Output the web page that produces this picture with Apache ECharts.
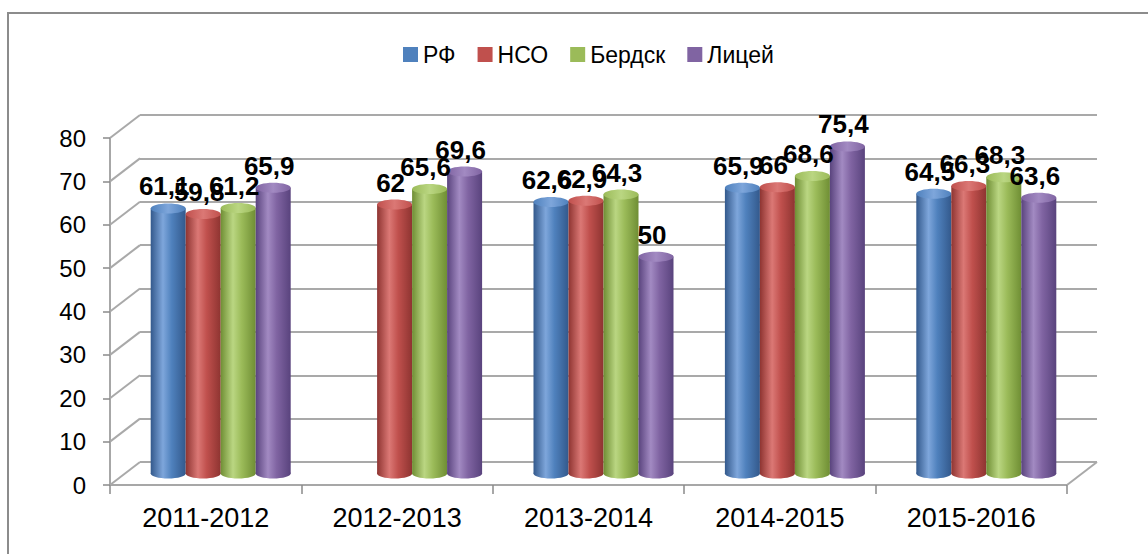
<!DOCTYPE html>
<html>
<head>
<meta charset="utf-8">
<script src="https://cdn.jsdelivr.net/npm/echarts@6/dist/echarts.min.js"></script>
<style>
  html, body { margin: 0; padding: 0; background: #fff; }
  #chart { width: 1148px; height: 554px; }
</style>
</head>
<body>
<div id="chart"></div>
<script>
const categories = ['2011-2012', '2012-2013', '2013-2014', '2014-2015', '2015-2016'];
const seriesNames = ['РФ', 'НСО', 'Бердск', 'Лицей'];
const rf = [61.1, null, 62.6, 65.9, 64.5];
const nso = [59.8, 62, 62.9, 66, 66.3];
const berdsk = [61.2, 65.6, 64.3, 68.6, 68.3];
const licey = [65.9, 69.6, 50, 75.4, 63.6];
const yTicks = [0, 10, 20, 30, 40, 50, 60, 70, 80];

const allValues = [rf, nso, berdsk, licey];

// office palette: base, light, dark
const palette = [
  { base: '#4F81BD', light: '#7ea6db', dark: '#33598c' },
  { base: '#C0504D', light: '#db7875', dark: '#8e3431' },
  { base: '#9BBB59', light: '#bad682', dark: '#6f8e34' },
  { base: '#8064A2', light: '#a28ac2', dark: '#59437d' }
];

// depth of the 3d box
const DX = 30, DY = 23;
const FRONT = { left: 110, right: 81, top: 138, bottom: 69 };
const BAR_W = 35;
const GRID_COLOR = '#a9a9a9';
const AXIS_COLOR = '#8a8a8a';
const FONT = 'Liberation Sans, Arial, sans-serif';

const chart = echarts.init(document.getElementById('chart'), null, { renderer: 'svg' });

const shift = (g, k) => ({
  left: g.left + DX * k,
  right: g.right - DX * k,
  top: g.top - DY * k,
  bottom: g.bottom + DY * k
});

const fmt = (v) => String(v).replace('.', ',');

function bodyGradient(p) {
  return new echarts.graphic.LinearGradient(0, 0, 1, 0, [
    { offset: 0, color: p.dark },
    { offset: 0.35, color: p.light },
    { offset: 0.6, color: p.base },
    { offset: 1, color: p.dark }
  ]);
}

function cylinder(sIdx) {
  const p = palette[sIdx];
  return function (params, api) {
    const v = api.value(1);
    if (v == null || isNaN(v)) return;
    const i = api.value(0);
    const base = api.coord([i, 0]);
    const top = api.coord([i, v]);
    const cx = base[0] + (sIdx - 1.5) * BAR_W;
    const w = BAR_W;
    const ry = 5;
    return {
      type: 'group',
      children: [
        { type: 'ellipse', shape: { cx: cx, cy: base[1], rx: w / 2, ry: ry }, style: { fill: bodyGradient(p) } },
        { type: 'rect', shape: { x: cx - w / 2, y: top[1], width: w, height: base[1] - top[1] }, style: { fill: bodyGradient(p) } },
        {
          type: 'ellipse', shape: { cx: cx, cy: top[1], rx: w / 2, ry: ry },
          style: {
            fill: new echarts.graphic.LinearGradient(0, 0, 1, 0, [
              { offset: 0, color: p.base },
              { offset: 0.5, color: p.light },
              { offset: 1, color: p.base }
            ])
          }
        },
        {
          type: 'text', z2: 100,
          style: {
            text: fmt(v), x: cx - 4, y: top[1] - 9,
            align: 'center', verticalAlign: 'bottom',
            font: 'bold 26px ' + FONT, fill: '#000'
          }
        }
      ]
    };
  };
}

// diagonal lines of the side wall and the floor
function sideLines(params, api) {
  const v = api.value(0);
  const cs = params.coordSys;
  const y = api.coord([0, v])[1];
  const children = [
    { type: 'line', shape: { x1: cs.x, y1: y, x2: cs.x + DX, y2: y - DY }, style: { stroke: GRID_COLOR, lineWidth: 2 } }
  ];
  if (v === 0) {
    const xr = cs.x + cs.width;
    children.push({ type: 'line', shape: { x1: xr, y1: y, x2: xr + DX, y2: y - DY }, style: { stroke: GRID_COLOR, lineWidth: 2 } });
  }
  return { type: 'group', children: children };
}

const grids = [FRONT, shift(FRONT, 1), shift(FRONT, 0.5)];

const yBase = { type: 'value', min: 0, max: 80, interval: 10 };

const option = {
  animation: false,
  backgroundColor: '#fff',
  graphic: [
    { type: 'rect', shape: { x: 8, y: 13, width: 1200, height: 600 }, style: { fill: 'none', stroke: '#8c8c8c', lineWidth: 2 }, silent: true }
  ],
  legend: {
    data: seriesNames,
    left: 398,
    top: 38,
    icon: 'rect',
    itemWidth: 15,
    itemHeight: 15,
    itemGap: 22,
    textStyle: { fontFamily: FONT, fontSize: 23, color: '#000' }
  },
  grid: grids,
  xAxis: [
    {
      type: 'category', gridIndex: 0, data: categories,
      axisLine: { show: true, lineStyle: { color: AXIS_COLOR, width: 1.5 } },
      axisTick: { show: true, length: 9, lineStyle: { color: AXIS_COLOR, width: 1.5 } },
      axisLabel: { fontFamily: FONT, fontSize: 27, color: '#000', margin: 19 }
    },
    { type: 'category', gridIndex: 1, data: categories, show: false },
    { type: 'category', gridIndex: 2, data: categories, show: false }
  ],
  yAxis: [
    Object.assign({}, yBase, {
      gridIndex: 0,
      axisLine: { show: true, lineStyle: { color: AXIS_COLOR, width: 1.5 } },
      axisTick: { show: true, length: 7, lineStyle: { color: AXIS_COLOR, width: 1.5 } },
      axisLabel: { fontFamily: FONT, fontSize: 24, color: '#000', margin: 24 },
      splitLine: { show: false }
    }),
    Object.assign({}, yBase, {
      gridIndex: 1,
      axisLine: { show: false }, axisTick: { show: false }, axisLabel: { show: false },
      splitLine: { show: true, lineStyle: { color: GRID_COLOR, width: 2 } }
    }),
    Object.assign({}, yBase, {
      gridIndex: 2,
      axisLine: { show: false }, axisTick: { show: false }, axisLabel: { show: false },
      splitLine: { show: false }
    })
  ],
  series: [
    {
      type: 'custom', name: 'side', xAxisIndex: 0, yAxisIndex: 0, silent: true,
      encode: { y: 0 },
      data: yTicks.map(v => [v]),
      renderItem: sideLines, z: 1
    }
  ].concat(seriesNames.map((name, s) => ({
    type: 'custom',
    name: name,
    xAxisIndex: 2,
    yAxisIndex: 2,
    itemStyle: { color: palette[s].base },
    encode: { x: 0, y: 1 },
    data: allValues[s].map((v, i) => [i, v == null ? '-' : v]),
    renderItem: cylinder(s),
    z: 3
  })))
};

chart.setOption(option);
</script>
</body>
</html>
